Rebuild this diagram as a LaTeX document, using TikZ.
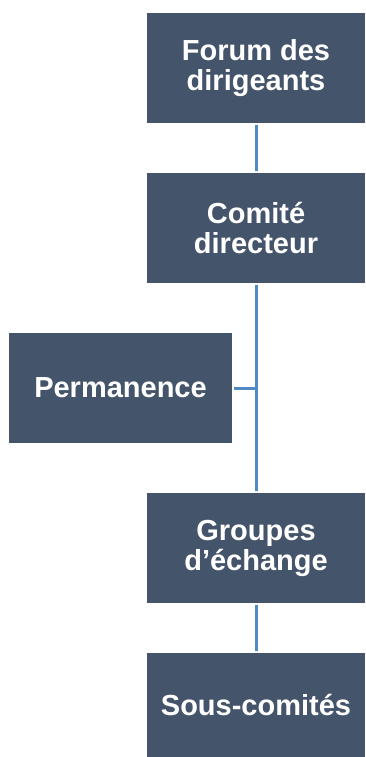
\documentclass[tikz,border=0pt]{standalone}
\usepackage{fontspec}
\setmainfont{Liberation Sans}
\definecolor{boxfill}{HTML}{44546A}
\definecolor{linkblue}{HTML}{5189C5}
\begin{document}
\begin{tikzpicture}[x=1pt,y=-1pt,
  orgbox/.style={fill=boxfill, draw=none, inner sep=0pt, text=white,
    font=\fontsize{29}{30}\selectfont\bfseries, align=center, anchor=center},
  link/.style={draw=linkblue, line width=3pt, shorten <=2pt, shorten >=2pt}]
\useasboundingbox (0,0) rectangle (365,757);
\node[orgbox, minimum width=218pt, minimum height=110pt] (forum) at (256,68) {Forum des\\dirigeants};
\node[orgbox, minimum width=218pt, minimum height=110pt] (comite) at (256,228) {Comité\\directeur};
\node[orgbox, minimum width=223pt, minimum height=110pt] (perm) at (120.5,388) {Permanence};
\node[orgbox, minimum width=218pt, minimum height=110pt] (groupes) at (256,548) {Groupes\\d’échange};
\node[orgbox, minimum width=218pt, minimum height=104pt] (sous) at (256,705) {Sous-comités};
\coordinate (junction) at (perm.east -| comite.south);
\draw[link] (forum.south) -- (comite.north);
\draw[link] (comite.south) -- (groupes.north);
\draw[link, shorten >=0pt] (perm.east) -- (junction);
\draw[link] (groupes.south) -- (sous.north);
\end{tikzpicture}
\end{document}
